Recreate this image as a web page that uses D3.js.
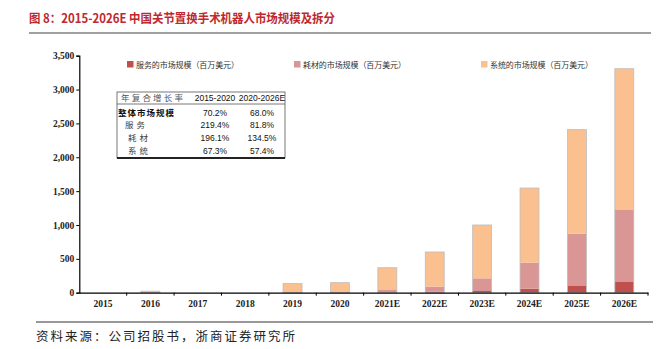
<!DOCTYPE html>
<html><head><meta charset="utf-8">
<script src="https://cdn.jsdelivr.net/npm/d3@7/dist/d3.min.js"></script>
<style>body{margin:0;background:#fff}svg{display:block}</style>
</head><body>
<svg id="c" width="658" height="349"></svg>
<script>
const years = ["2015","2016","2017","2018","2019","2020","2021E","2022E","2023E","2024E","2025E","2026E"];
const services = [0, 8, 0, 0, 3, 4.6, 7, 15, 34, 59, 99, 167];
const consumables = [0, 8, 0, 0, 5, 6.4, 33, 74, 178, 384, 772, 1063];
const systems = [0, 6, 0, 0, 127, 137, 329, 512, 788, 1103, 1537, 2078];
const seriesNames = ["服务的市场规模（百万美元）","耗材的市场规模（百万美元）","系统的市场规模（百万美元）"];
const seriesColors = ["#c0504d","#d99694","#fac090"];
const yTicks = [0,500,1000,1500,2000,2500,3000,3500];
const cagrHeader = ["年复合增长率","2015-2020","2020-2026E"];
const cagrRows = [
  ["整体市场规模","70.2%","68.0%"],
  ["服务","219.4%","81.8%"],
  ["耗材","196.1%","134.5%"],
  ["系统","67.3%","57.4%"]
];

const svg = d3.select("#c");
const cjk = "'Noto Sans CJK SC','Noto Sans',sans-serif";
const serif = "'Liberation Serif','DejaVu Serif',serif";

// Title
svg.append("text").attr("x",29).attr("y",23).attr("fill","#c0282d")
  .attr("font-family",cjk).attr("font-weight","bold").attr("font-size",12.5)
  .attr("textLength",306).attr("lengthAdjust","spacingAndGlyphs")
  .text("图 8：2015-2026E 中国关节置换手术机器人市场规模及拆分");
svg.append("line").attr("x1",29).attr("x2",651).attr("y1",33).attr("y2",33)
  .attr("stroke","#808080").attr("stroke-width",1.5);

// Scales
const x = d3.scaleBand().domain(years).range([79.3,648]).paddingInner(0.6).paddingOuter(0.3);
const xb = d3.scaleBand().domain(years).range([79.3,648]);
const y = d3.scaleLinear().domain([0,3500]).range([292.7,55.7]);

const data = years.map((yr,i)=>({year:yr, s0:services[i], s1:consumables[i], s2:systems[i]}));
const stack = d3.stack().keys(["s0","s1","s2"]);
const layers = stack(data);

const g = svg.append("g");
layers.forEach((layer,li)=>{
  g.selectAll(null).data(layer).enter().append("rect")
    .attr("x",d=>x(d.data.year))
    .attr("width",x.bandwidth())
    .attr("y",d=>y(d[1]))
    .attr("height",d=>Math.max(0,y(d[0])-y(d[1])))
    .attr("fill",seriesColors[li]);
});
// outline
g.selectAll(null).data(data.filter(d=>d.s0+d.s1+d.s2>0)).enter().append("rect")
  .attr("x",d=>x(d.year)).attr("width",x.bandwidth())
  .attr("y",d=>y(d.s0+d.s1+d.s2)).attr("height",d=>y(0)-y(d.s0+d.s1+d.s2))
  .attr("fill","none").attr("stroke","#bdbdbd").attr("stroke-width",0.8);

// Y axis
const yAxis = d3.axisLeft(y).tickValues(yTicks).tickSize(3).tickFormat(d3.format(","));
const ya = svg.append("g").attr("transform","translate(79.3,0)").call(yAxis);
ya.select(".domain").attr("stroke","#000").attr("stroke-width",1.2);
ya.selectAll(".tick line").attr("stroke","#000");
ya.selectAll(".tick text").attr("font-family",serif).attr("font-weight","bold")
  .attr("font-size",9.5).attr("fill","#222").attr("x",-5);

// X axis
const xAxis = d3.axisBottom(xb).tickSize(0).tickSizeOuter(0);
const xa = svg.append("g").attr("transform","translate(0,292.7)").call(xAxis);
xa.select(".domain").attr("stroke","#000").attr("stroke-width",1.2);
xa.selectAll(".tick text").attr("font-family",serif).attr("font-weight","bold")
  .attr("font-size",9.5).attr("fill","#222").attr("y",8);
const bounds = years.map(yr=>xb(yr)+xb.bandwidth());
xa.selectAll(null).data(bounds).enter().append("line")
  .attr("x1",d=>d).attr("x2",d=>d).attr("y1",0).attr("y2",3).attr("stroke","#000");

// Legend
const legX = [127,294,481];
seriesNames.forEach((n,i)=>{
  svg.append("rect").attr("x",legX[i]).attr("y",61).attr("width",6.5).attr("height",6.5).attr("fill",seriesColors[i]);
  svg.append("text").attr("x",legX[i]+9).attr("y",67.5).attr("font-family",cjk)
    .attr("font-size",8).attr("fill","#333").attr("textLength",103).attr("lengthAdjust","spacing").text(n);
});

// CAGR table
const tb = svg.append("g");
tb.append("rect").attr("x",117).attr("y",92).attr("width",168).attr("height",66)
  .attr("fill","#fff").attr("stroke","#555").attr("stroke-width",0.8);
tb.append("line").attr("x1",117).attr("x2",285).attr("y1",104).attr("y2",104).attr("stroke","#555").attr("stroke-width",0.8);
tb.append("line").attr("x1",117).attr("x2",285).attr("y1",158).attr("y2",158).attr("stroke","#222").attr("stroke-width",1.8);
const colX = [null,215,262];
const rowY = [101,115.5,128,141,154];
tb.append("text").attr("x",121).attr("y",rowY[0]).attr("font-family",cjk).attr("font-size",8.5)
  .attr("fill","#555").attr("textLength",62).attr("lengthAdjust","spacing").text(cagrHeader[0]);
[1,2].forEach(c=>tb.append("text").attr("x",colX[c]).attr("y",rowY[0]).attr("text-anchor","middle")
  .attr("font-family","'Liberation Sans',Arial,sans-serif").attr("font-size",8.5).attr("fill","#111").text(cagrHeader[c]));
const labX = [118,125,128,128];
cagrRows.forEach((r,i)=>{
  tb.append("text").attr("x",labX[i]).attr("y",rowY[i+1]).attr("font-family",cjk)
    .attr("font-size",8.5).attr("font-weight",i===0?"bold":"normal").attr("fill",i===0?"#111":"#444")
    .attr("letter-spacing",i===0?1:3).text(r[0]);
  [1,2].forEach(c=>tb.append("text").attr("x",colX[c]).attr("y",rowY[i+1]).attr("text-anchor","middle")
    .attr("font-family","'Liberation Sans',Arial,sans-serif").attr("font-size",8.5).attr("fill","#111").text(r[c]));
});

// Footer
svg.append("line").attr("x1",36).attr("x2",653).attr("y1",322).attr("y2",322).attr("stroke","#333").attr("stroke-width",1.2);
svg.append("text").attr("x",36).attr("y",341).attr("font-family",cjk).attr("font-size",12.5)
  .attr("fill","#222").attr("textLength",259).attr("lengthAdjust","spacing").text("资料来源：公司招股书，浙商证券研究所");
</script>
</body></html>
